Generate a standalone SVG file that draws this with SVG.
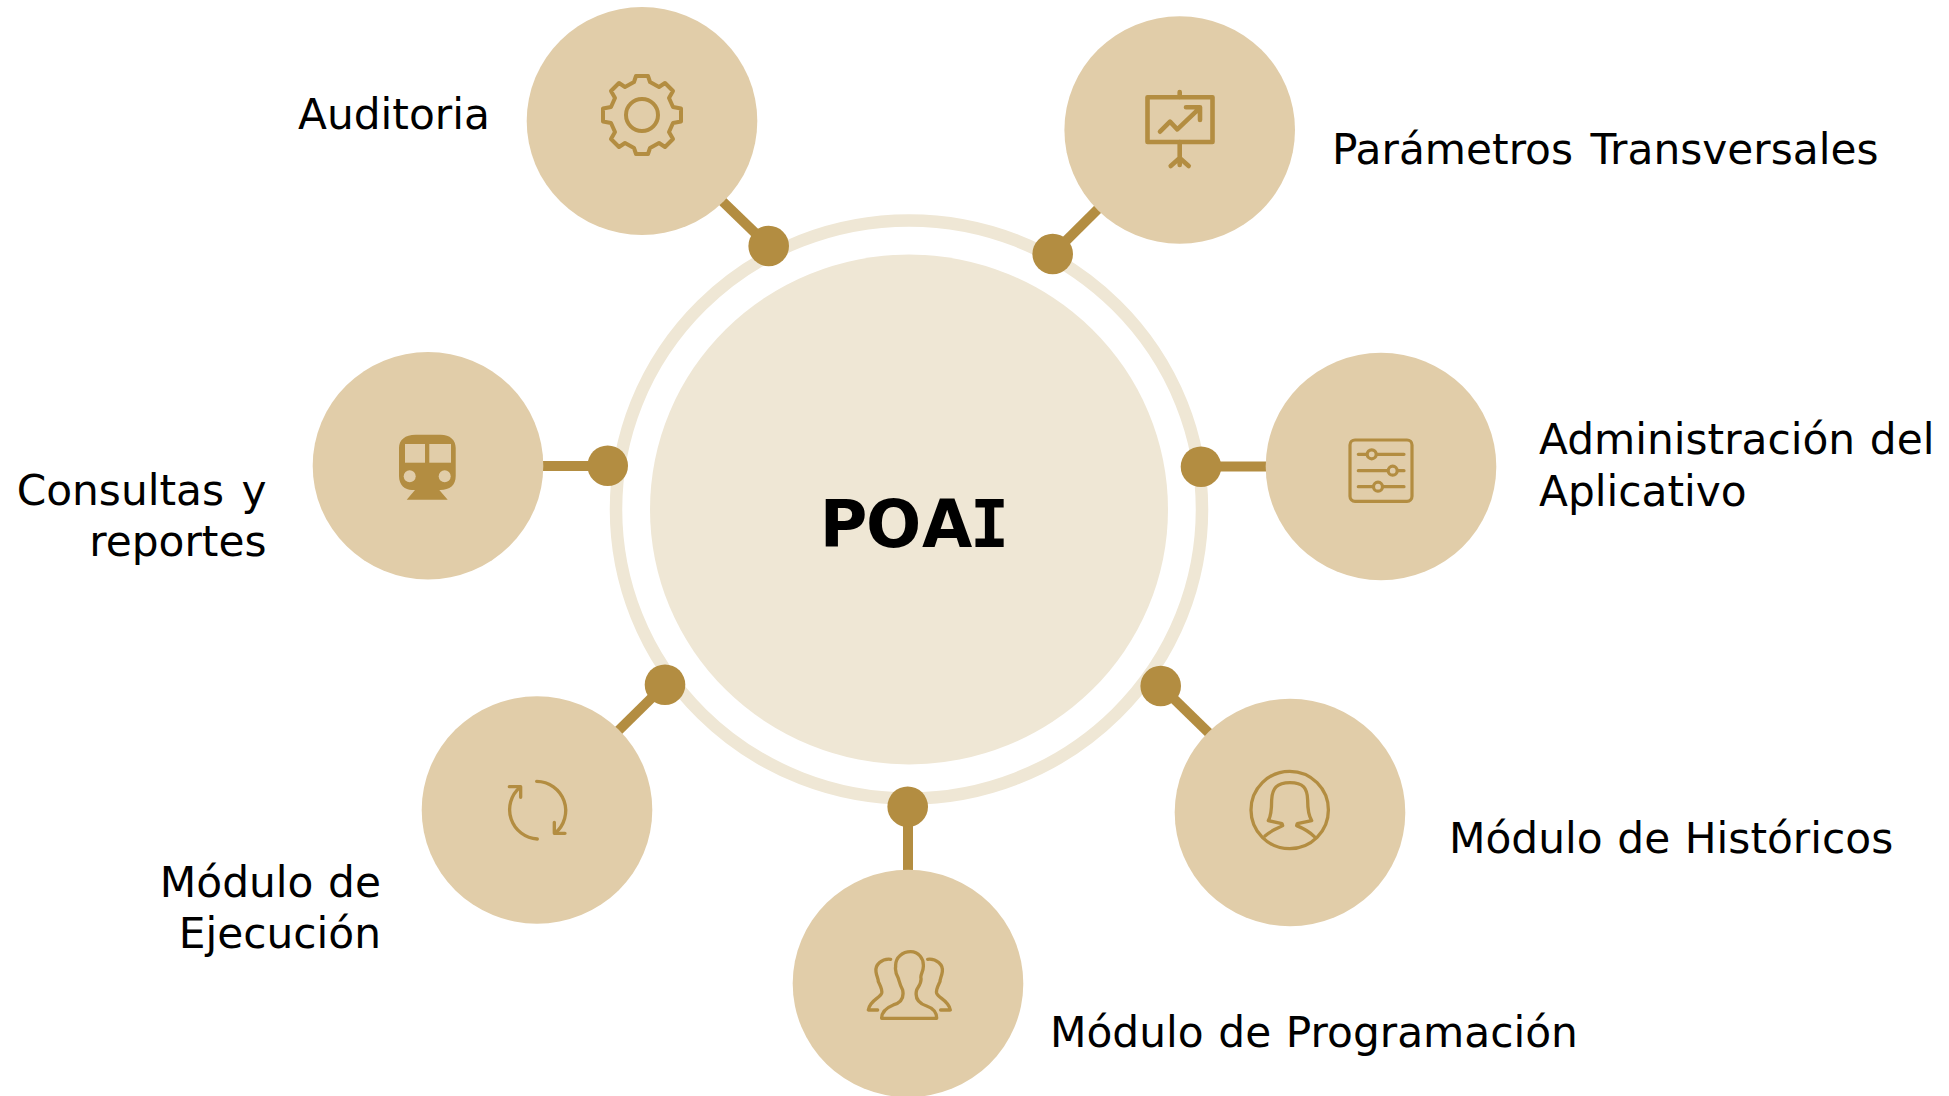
<svg xmlns="http://www.w3.org/2000/svg" width="1949" height="1096" viewBox="0 0 1949 1096">
<style>
.bub{fill:#e1cda9}
.dot{fill:#b38d41}
.lnk{stroke:#b38d41;stroke-width:10;fill:none}
.ic{fill:none;stroke:#b38d41;stroke-width:4;stroke-linecap:round;stroke-linejoin:round}
.iz{fill:none;stroke:#b38d41;stroke-width:10;stroke-linecap:round;stroke-linejoin:round}
.sol{fill:#b38d41}
.lb{font-family:"DejaVu Sans",Verdana,sans-serif;font-size:42.3px;word-spacing:4px;fill:#000}
.e{text-anchor:end}
.ws{word-spacing:1.2px}
</style>
<rect width="1949" height="1096" fill="#fff"/>
<g id="hub">
<ellipse cx="909" cy="509.5" rx="293" ry="289" fill="none" stroke="#efe7d5" stroke-width="12.5"/>
<ellipse cx="909" cy="509.5" rx="259" ry="255" fill="#efe7d5"/>
<text y="546.6" font-family="'DejaVu Sans',Verdana,sans-serif" font-weight="700" font-size="65" fill="#000"><tspan x="819.7">P</tspan><tspan x="866">O</tspan><tspan x="922">A</tspan><tspan x="970" font-family="'DejaVu Sans Mono',monospace">I</tspan></text>
</g>
<g id="connectors">
<line class="lnk" x1="718" y1="197" x2="768.7" y2="246"/>
<line class="lnk" x1="1100" y1="207" x2="1052.7" y2="254"/>
<line class="lnk" x1="1275" y1="466.5" x2="1201" y2="466.5"/>
<line class="lnk" x1="535" y1="466" x2="607.7" y2="466"/>
<line class="lnk" x1="1213" y1="737" x2="1160.7" y2="686"/>
<line class="lnk" x1="908" y1="880" x2="908" y2="806.7"/>
<line class="lnk" x1="616" y1="733" x2="665" y2="684.7"/>
<g class="dot">
<circle cx="768.7" cy="246" r="20.3"/>
<circle cx="1052.7" cy="254" r="20.3"/>
<circle cx="1201" cy="466.7" r="20.3"/>
<circle cx="607.7" cy="465.7" r="20.3"/>
<circle cx="1160.7" cy="686" r="20.3"/>
<circle cx="907.7" cy="806.7" r="20.3"/>
<circle cx="665" cy="684.7" r="20.3"/>
</g>
</g>
<g id="auditoria">
<ellipse class="bub" cx="642" cy="121" rx="115.3" ry="114"/>
<g transform="translate(642 115)" class="ic">
<circle r="16"/>
<path d="M6-39 8-33 17-28 23-32 31-24 27-17 31-8 39-6.5 39 6.5 31 8 27 17 31 24 23 32 17 28 8 33 6 39-6 39-8 33-17 28-23 32-31 24-27 17-31 8-39 6.5-39-6.5-31-8-27-17-31-24-23-32-17-28-8-33-6-39Z"/>
</g>
<text class="lb" x="298" y="129">Auditoria</text>
</g>
<g id="parametros">
<ellipse class="bub" cx="1179.7" cy="130" rx="115.3" ry="113.7"/>
<g class="ic" style="stroke-width:4.6">
<rect x="1147.5" y="97.3" width="65" height="44.7"/>
<path d="M1179.7 92V97M1179.7 142V165M1179.7 158 1170.7 166M1179.7 158 1188.7 166M1160 131.7 1170 121.7 1177.3 129.3 1199.3 108.3M1186 107.3H1200V120"/>
</g>
<text class="lb" x="1332" y="164">Parámetros Transversales</text>
</g>
<g id="administracion">
<ellipse class="bub" cx="1381" cy="466.5" rx="115.3" ry="113.7"/>
<g class="ic" style="stroke-width:3.2">
<rect x="1350" y="440" width="62" height="61.3" rx="5"/>
<path d="M1358.3 454.3H1404M1358.3 470.7H1404M1358.3 486.7H1404"/>
<g style="fill:#e1cda9">
<circle cx="1371.7" cy="454.3" r="4.5"/>
<circle cx="1392.7" cy="470.7" r="4.5"/>
<circle cx="1378" cy="486.7" r="4.5"/>
</g>
</g>
<text class="lb ws" x="1539" y="454">Administración del</text>
<text class="lb" x="1539" y="506">Aplicativo</text>
</g>
<g id="consultas">
<ellipse class="bub" cx="428" cy="465.7" rx="115.3" ry="113.7"/>
<path class="sol" d="M415.6 434.7H440.6C450 434.7 455.7 440 455.7 448V476C455.7 485 450 490 440 490H439.3L447.7 499.7H406.7L415 490H412C405 490 399 485 399 476V448C399 440 405 434.7 415.6 434.7Z"/>
<g class="bub">
<rect x="405" y="444" width="20" height="18.7"/>
<rect x="429.3" y="444" width="21.7" height="18.7"/>
<circle cx="409.7" cy="476.3" r="6"/>
<circle cx="444.7" cy="476.3" r="6"/>
</g>
<text class="lb e" x="266.5" y="505">Consultas y</text>
<text class="lb e" x="266.5" y="556">reportes</text>
</g>
<g id="historicos">
<ellipse class="bub" cx="1290" cy="812.5" rx="115.3" ry="113.7"/>
<circle class="ic" cx="1289.7" cy="810" r="38.7" style="stroke-width:3.3"/>
<path class="iz" transform="translate(1140 660) scale(.3333)" d="M375 528C395 510 415 505 428 497L426 491 385 482C395 465 395 440 395 420 397 385 410 368 450 368 490 368 502 385 503 420 503 445 505 465 515 482L472 491 470 497C490 505 505 512 523 530"/>
<text class="lb ws" x="1449" y="853">Módulo de Históricos</text>
</g>
<g id="programacion">
<ellipse class="bub" cx="908" cy="983.5" rx="115.3" ry="113.7"/>
<g class="iz" transform="translate(780 780) scale(.3333)">
<path d="M305 715C305 700 315 685 340 675 365 668 372 650 368 630 360 615 358 605 355 595 347 580 345 570 347 560 345 530 370 515 392 515 415 515 432 535 430 560 430 575 420 585 423 595 425 610 415 620 410 630 405 650 410 668 440 678 460 685 470 700 470 715Z"/>
<path d="M332 538C305 535 285 555 288 575 290 590 295 595 295 605 302 620 308 630 305 640 300 655 270 660 265 690H293"/>
<path d="M443 538C470 535 490 555 487 575 485 590 480 595 480 605 473 620 467 630 470 640 475 655 505 660 511 690H482"/>
</g>
<text class="lb ws" x="1050" y="1047">Módulo de Programación</text>
</g>
<g id="ejecucion">
<ellipse class="bub" cx="537" cy="810" rx="115.3" ry="113.7"/>
<g class="iz" transform="translate(420 660) scale(.3333)">
<path d="M350 364A88 88 0 0 1 405 520"/>
<path d="M403 487V520H435"/>
<path d="M352 537A88 88 0 0 1 300 382"/>
<path d="M268 380H302V412"/>
</g>
<text class="lb e ws" x="381" y="897">Módulo de</text>
<text class="lb e" x="381" y="948">Ejecución</text>
</g>
</svg>
